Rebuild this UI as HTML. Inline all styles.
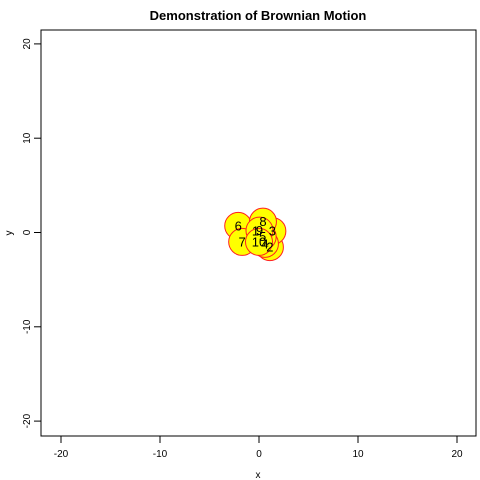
<!DOCTYPE html>
<html><head><meta charset="utf-8"><style>body{margin:0;background:#fff}svg{display:block;font-family:"Liberation Sans",sans-serif}</style></head>
<body>
<svg id="c" width="480" height="480">
<text x="258" y="20" text-anchor="middle" font-size="13" font-weight="bold">Demonstration of Brownian Motion</text>
<rect x="41" y="30" width="435" height="406" fill="none" stroke="#000"/>
<text x="258" y="478" text-anchor="middle" font-size="10">x</text>
<text transform="translate(12,233) rotate(-90)" text-anchor="middle" font-size="10">y</text>
<g id="ax"></g><g id="pts"></g>
</svg>
<script>
const labels=["1","2","3","4","5","6","7","8","9","10"];
const xs=[-0.35,1.1,1.35,0.6,0.37,-2.1,-1.7,0.4,0.05,0.0];
const ys=[0.15,-1.55,0.15,-1.2,-0.45,0.7,-1.0,1.15,0.2,-1.0];
const ticks=[-20,-10,0,10,20];
const X=v=>259+v*9.9, Y=v=>232.5-v*9.43;
const ns="http://www.w3.org/2000/svg";
const ax=document.getElementById('ax'),pts=document.getElementById('pts');
function mk(t,a,p){const e=document.createElementNS(ns,t);for(const k in a)e.setAttribute(k,a[k]);p.appendChild(e);return e;}
let l=mk('line',{x1:X(-20),x2:X(20),y1:436,y2:436,stroke:'#000'},ax);


l=mk('line',{x1:41,x2:41,y1:Y(-20),y2:Y(20),stroke:'#000'},ax);


ticks.forEach(t=>{
 let a=mk('line',{x1:X(t),x2:X(t),y1:436,y2:443,stroke:'#000'},ax);
 
 
 let b=mk('text',{x:X(t),y:457,'text-anchor':'middle','font-size':10},ax);b.textContent=t;
 
 
 let c=mk('line',{x1:34,x2:41,y1:Y(t),y2:Y(t),stroke:'#000'},ax);
 
 
 let d=mk('text',{transform:`translate(30,${Y(t)}) rotate(-90)`,'text-anchor':'middle','font-size':10},ax);d.textContent=t;
 
 
});
xs.forEach((x,i)=>{
 let c=mk('circle',{cx:X(x),cy:Y(ys[i]),r:13.5,fill:'#ffff00',stroke:'#ff2020','stroke-width':1},pts);
 
 
});
xs.forEach((x,i)=>{
 let t=mk('text',{x:X(x),y:Y(ys[i])+4.5,'text-anchor':'middle','font-size':13},pts);t.textContent=labels[i];
 
 
});
</script>
</body></html>
